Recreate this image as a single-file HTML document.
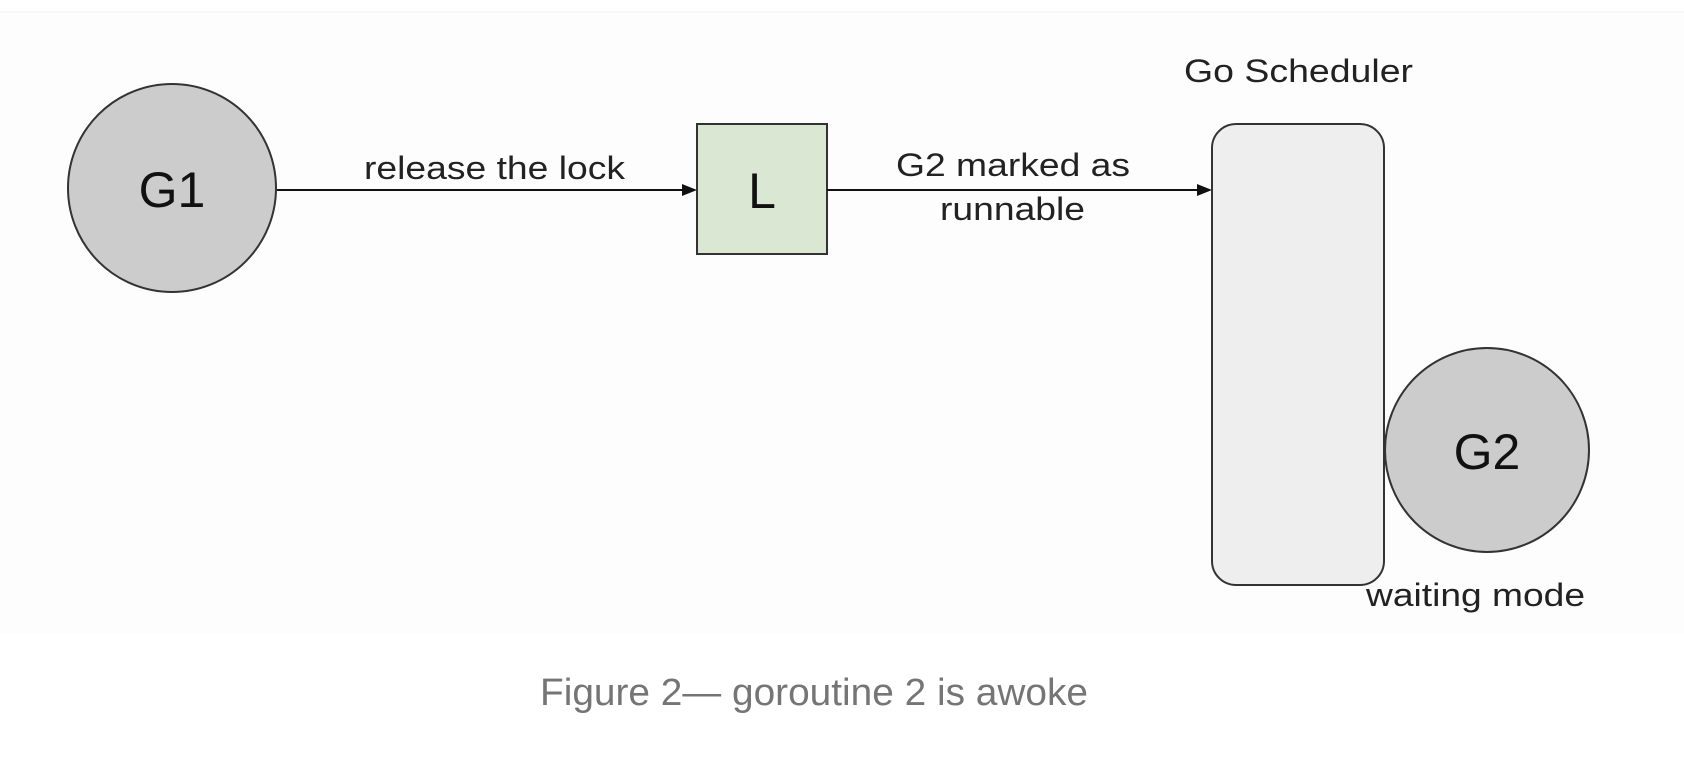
<!DOCTYPE html>
<html><head><meta charset="utf-8"><style>
html,body{margin:0;padding:0;background:#fff;}
body{width:1684px;height:758px;overflow:hidden;position:relative;font-family:"Liberation Sans",sans-serif;}
</style></head><body>
<svg width="1684" height="758" viewBox="0 0 1684 758" xmlns="http://www.w3.org/2000/svg" style="position:absolute;left:0;top:0" font-family="Liberation Sans, sans-serif">
<rect x="0" y="12" width="1684" height="621" fill="#fdfdfd"/>
<line x1="0" y1="12" x2="1684" y2="12" stroke="#f2f2f2" stroke-width="1"/>
<circle cx="172" cy="188" r="104" fill="#cccccc" stroke="#333" stroke-width="2"/>
<text x="172" y="207" font-size="50" text-anchor="middle" fill="#111">G1</text>
<line x1="277" y1="190" x2="686" y2="190" stroke="#111" stroke-width="2"/>
<polygon points="697,190 682,184 682,196" fill="#111"/>
<text x="364" y="179" font-size="32" textLength="261" lengthAdjust="spacingAndGlyphs" fill="#222">release the lock</text>
<rect x="697" y="124" width="130" height="130" fill="#dae7d3" stroke="#333" stroke-width="2"/>
<text x="762" y="208" font-size="50" text-anchor="middle" fill="#111">L</text>
<line x1="827" y1="190" x2="1201" y2="190" stroke="#111" stroke-width="2"/>
<polygon points="1212,190 1197,184 1197,196" fill="#111"/>
<text x="896" y="176" font-size="32" textLength="234" lengthAdjust="spacingAndGlyphs" fill="#222">G2 marked as</text>
<text x="940" y="220" font-size="32" textLength="145" lengthAdjust="spacingAndGlyphs" fill="#222">runnable</text>
<text x="1184" y="82" font-size="32" textLength="229" lengthAdjust="spacingAndGlyphs" fill="#222">Go Scheduler</text>
<rect x="1212" y="124" width="172" height="461" rx="24" ry="24" fill="#eeeeee" stroke="#333" stroke-width="2"/>
<circle cx="1487" cy="450" r="102" fill="#cccccc" stroke="#333" stroke-width="2"/>
<text x="1487" y="469" font-size="50" text-anchor="middle" fill="#111">G2</text>
<text x="1366" y="606" font-size="32" textLength="219" lengthAdjust="spacingAndGlyphs" fill="#222">waiting mode</text>
<text x="540" y="705" font-size="38" textLength="548" lengthAdjust="spacingAndGlyphs" fill="#757575">Figure 2— goroutine 2 is awoke</text>
</svg>
</body></html>
